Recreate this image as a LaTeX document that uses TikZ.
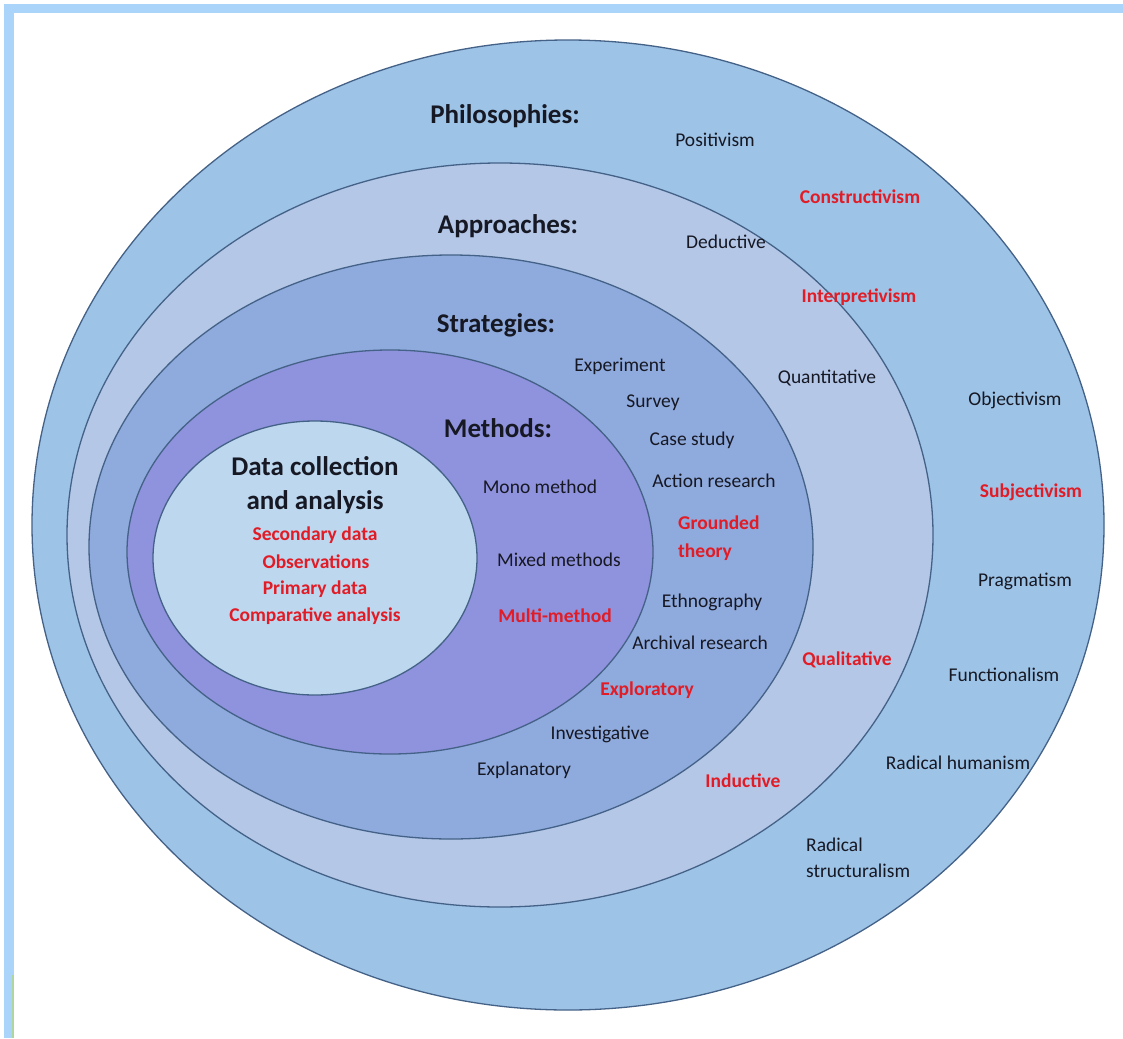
\documentclass[tikz,border=0pt]{standalone}
\usepackage{fontspec}
\setmainfont{Carlito}
\definecolor{philo}{RGB}{157,195,230}
\definecolor{appr}{RGB}{180,199,231}
\definecolor{strat}{RGB}{143,170,220}
\definecolor{meth}{RGB}{143,146,220}
\definecolor{datac}{RGB}{189,215,238}
\definecolor{edgec}{RGB}{68,98,135}
\definecolor{redt}{RGB}{225,28,38}
\definecolor{darkt}{RGB}{22,24,36}
\definecolor{framec}{RGB}{170,212,250}
\definecolor{greenc}{RGB}{176,214,160}
\begin{document}
\begin{tikzpicture}[x=1pt,y=-1pt,
  ring/.style={draw=edgec,line width=1.3pt},
  item/.style={text=darkt,font=\fontsize{19.5}{22}\selectfont,inner sep=0pt},
  hot/.style={text=redt,font=\fontsize{19.5}{22}\selectfont\bfseries,inner sep=0pt},
  head/.style={text=darkt,font=\fontsize{27}{30}\selectfont\bfseries,inner sep=0pt}]
\useasboundingbox (0,0) rectangle (1123,1038);
\fill[white] (0,0) rectangle (1123,1038);
% frame
\fill[framec] (4,4) rectangle (1123,13);
\fill[framec] (4,4) rectangle (14,1038);
\fill[greenc] (12,975) rectangle (14,1038);
% rings
\filldraw[ring,fill=philo] (568,525) ellipse [x radius=536, y radius=485];
\filldraw[ring,fill=appr] (500,535) ellipse [x radius=433, y radius=372];
\filldraw[ring,fill=strat] (451,547) ellipse [x radius=362, y radius=292];
\filldraw[ring,fill=meth] (390,552) ellipse [x radius=263, y radius=202];
\filldraw[ring,fill=datac] (315,558) ellipse [x radius=162, y radius=137];
% headings
\node[head] (hphil) at (505,116) {Philosophies:};
\node[head] (happr) at (508,226) {Approaches:};
\node[head] (hstrat) at (496,325) {Strategies:};
\node[head] (hmeth) at (498,428) {Methods:};
\node[head] (hdata1) at (315,466) {Data collection};
\node[head] (hdata2) at (315,502) {and analysis};
% data collection
\node[hot] (d1) at (315,535) {Secondary data};
\node[hot] (d2) at (316,562) {Observations};
\node[hot] (d3) at (315,589) {Primary data};
\node[hot] (d4) at (315,616) {Comparative analysis};
% methods
\node[item] (m1) at (540,487) {Mono method};
\node[item] (m2) at (559,560) {Mixed methods};
\node[hot] (m3) at (555,616) {Multi-method};
% strategies
\node[item] (s1) at (620,366) {Experiment};
\node[item] (s2) at (653,403) {Survey};
\node[item] (s3) at (692,440) {Case study};
\node[item] (s4) at (714,481) {Action research};
\node[hot,anchor=west] (s5) at (678,523) {Grounded};
\node[hot,anchor=west] (s6) at (678,552) {theory};
\node[item] (s7) at (712,602) {Ethnography};
\node[item] (s8) at (700,643) {Archival research};
\node[hot] (s9) at (647,690) {Exploratory};
\node[item] (s10) at (600,734) {Investigative};
\node[item] (s11) at (524,770) {Explanatory};
% approaches
\node[item] (a1) at (726,242) {Deductive};
\node[item] (a2) at (827,378) {Quantitative};
\node[hot] (a3) at (847,660) {Qualitative};
\node[hot] (a4) at (743,781) {Inductive};
% philosophies
\node[item] (p1) at (715,140) {Positivism};
\node[hot] (p2) at (860,197) {Constructivism};
\node[hot] (p3) at (859,297) {Interpretivism};
\node[item] (p4) at (1015,400) {Objectivism};
\node[hot] (p5) at (1031,492) {Subjectivism};
\node[item] (p6) at (1025,581) {Pragmatism};
\node[item] (p7) at (1004,675) {Functionalism};
\node[item] (p8) at (958,763) {Radical humanism};
\node[item,anchor=west] (p9) at (806,845) {Radical};
\node[item,anchor=west] (p10) at (806,871) {structuralism};
\end{tikzpicture}
\end{document}
